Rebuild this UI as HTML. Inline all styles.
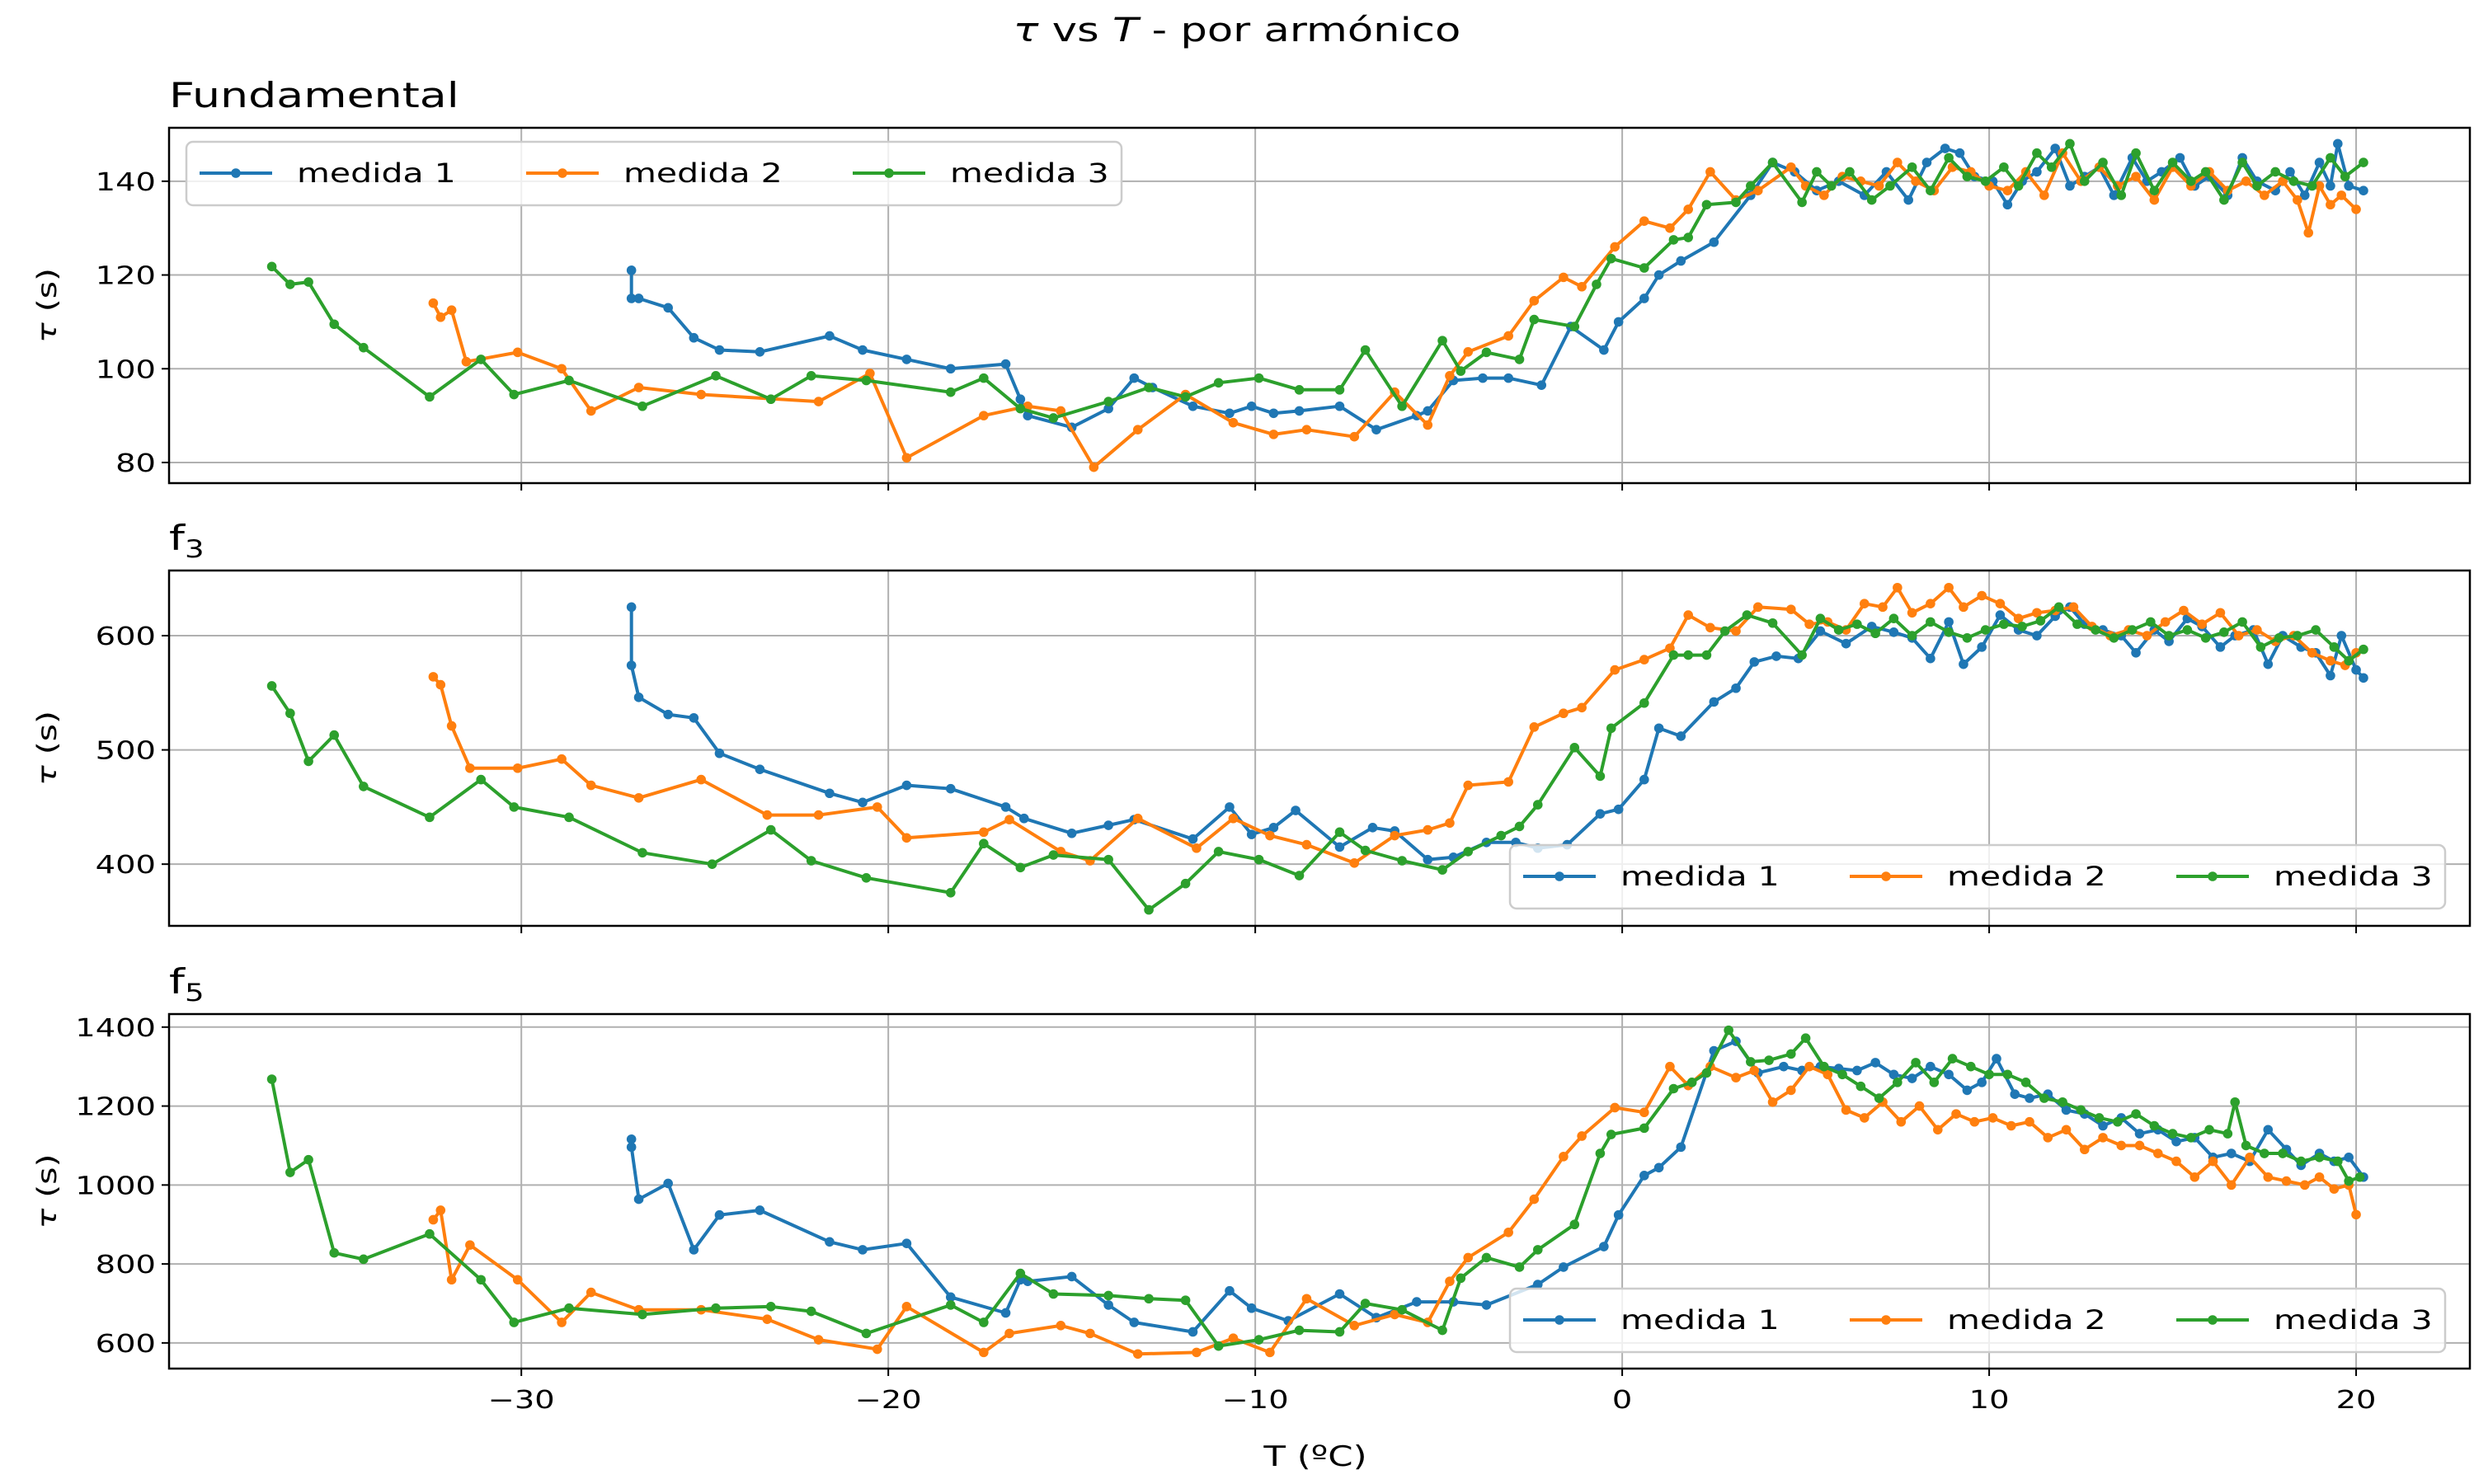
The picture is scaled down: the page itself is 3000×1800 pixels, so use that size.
<!DOCTYPE html>
<html><head><meta charset="utf-8"><style>
body{margin:0;background:#fff}
svg{display:block;font-family:"DejaVu Sans","Liberation Sans",sans-serif}
</style></head><body>
<svg id="chart" width="3000" height="1800" viewBox="0 0 3000 1800" xmlns="http://www.w3.org/2000/svg">
<rect width="3000" height="1800" fill="#fff"/>
<text x="1500" y="50" font-size="40" text-anchor="middle"><tspan font-style="italic">τ</tspan> vs <tspan font-style="italic">T</tspan> - por armónico</text>
<text x="1595" y="1778" font-size="34" text-anchor="middle">T (ºC)</text>
</svg>
<script>
// ---- data ----
const xTicks = [-30,-20,-10,0,10,20];
const xTickLabels = ['−30','−20','−10','0','10','20'];
const seriesNames = ['medida 1','medida 2','medida 3'];
const colors = ['#1f77b4','#ff7f0e','#2ca02c'];

const p1TickVals = [80,100,120,140];
const p2TickVals = [400,500,600];
const p3TickVals = [600,800,1000,1200,1400];

// Fundamental
const f1m1x = [-27.0,-27.0,-26.8,-26.0,-25.3,-24.6,-23.5,-21.6,-20.7,-19.5,-18.3,-16.8,-16.4,-16.2,-15.0,-14.0,-13.3,-12.8,-11.7,-10.7,-10.1,-9.5,-8.8,-7.7,-6.7,-5.6,-5.3,-4.6,-3.8,-3.1,-2.2,-1.4,-0.5,-0.1,0.6,1.0,1.6,2.5,3.5,4.1,4.7,5.3,5.9,6.6,7.2,7.8,8.3,8.8,9.2,9.6,10.1,10.5,10.9,11.3,11.8,12.2,12.6,13.0,13.4,13.9,14.3,14.7,15.2,15.6,16.0,16.5,16.9,17.3,17.8,18.2,18.6,19.0,19.3,19.5,19.8,20.2];
const f1m1y = [121,115,115,113,106.6,104,103.6,107,104,102,100,101,93.5,90,87.5,91.5,98,96,92,90.5,92,90.5,91,92,87,90,91,97.5,98,98,96.5,109,104,110,115,120,123,127,137,144,142,138,140,137,142,136,144,147,146,141,140,135,140,142,147,139,141,143,137,145,140,142,145,139,141,137,145,140,138,142,137,144,139,148,139,138];
const f1m2x = [-32.4,-32.2,-31.9,-31.5,-30.1,-28.9,-28.1,-26.8,-25.1,-21.9,-20.5,-19.5,-17.4,-16.2,-15.3,-14.4,-13.2,-11.9,-10.6,-9.5,-8.6,-7.3,-6.2,-5.3,-4.7,-4.2,-3.1,-2.4,-1.6,-1.1,-0.2,0.6,1.3,1.8,2.4,3.1,3.7,4.6,5.0,5.5,6.0,6.5,7.0,7.5,8.0,8.5,9.0,9.5,10.0,10.5,11.0,11.5,12.0,12.5,13.0,13.5,14.0,14.5,15.0,15.5,16.0,16.5,17.0,17.5,18.0,18.4,18.7,19.0,19.3,19.6,20.0];
const f1m2y = [114,111,112.5,101.5,103.5,100,91,96,94.5,93,99,81,90,92,91,79,87,94.5,88.5,86,87,85.5,95,88,98.5,103.6,107,114.5,119.5,117.5,126,131.5,130,134,142,136,138,143,139,137,141,140,139,144,140,138,143,142,139,138,142,137,146,140,143,139,141,136,143,139,142,138,140,137,140,136,129,139,135,137,134];
const f1m3x = [-36.8,-36.3,-35.8,-35.1,-34.3,-32.5,-31.1,-30.2,-28.7,-26.7,-24.7,-23.2,-22.1,-20.6,-18.3,-17.4,-16.4,-15.5,-14.0,-12.9,-11.9,-11.0,-9.9,-8.8,-7.7,-7.0,-6.0,-4.9,-4.4,-3.7,-2.8,-2.4,-1.3,-0.7,-0.3,0.6,1.4,1.8,2.3,3.1,3.5,4.1,4.9,5.3,5.7,6.2,6.8,7.3,7.9,8.4,8.9,9.4,9.9,10.4,10.8,11.3,11.7,12.2,12.6,13.1,13.6,14.0,14.5,15.0,15.5,15.9,16.4,16.9,17.3,17.8,18.3,18.8,19.3,19.7,20.2];
const f1m3y = [121.8,118,118.5,109.5,104.5,94,102,94.5,97.5,92,98.5,93.5,98.5,97.5,95,98,91.5,89.5,93,96,94,97,98,95.5,95.5,104,92,106,99.5,103.5,102,110.5,109,118,123.5,121.5,127.5,128,135,135.5,139,144,135.5,142,139,142,136,139,143,138,145,141,140,143,139,146,143,148,140,144,137,146,138,144,140,142,136,144,139,142,140,139,145,141,144];

// f3
const f3m1x = [-27.0,-27.0,-26.8,-26.0,-25.3,-24.6,-23.5,-21.6,-20.7,-19.5,-18.3,-16.8,-16.3,-15.0,-14.0,-13.3,-11.7,-10.7,-10.1,-9.5,-8.9,-7.7,-6.8,-6.2,-5.3,-4.6,-3.7,-2.9,-2.3,-1.5,-0.6,-0.1,0.6,1.0,1.6,2.5,3.1,3.6,4.2,4.8,5.4,6.1,6.8,7.4,7.9,8.4,8.9,9.3,9.8,10.3,10.8,11.3,11.8,12.2,12.6,13.1,13.6,14.0,14.5,14.9,15.4,15.8,16.3,16.7,17.2,17.6,18.0,18.5,18.9,19.3,19.6,20.0,20.2];
const f3m1y = [625,574,546,531,528,497,483,462,454,469,466,450,440,427,434,439,422,450,426,432,447,415,432,429,404,406,419,419,414,417,444,448,474,519,512,542,554,577,582,580,604,593,608,603,598,580,612,575,590,618,605,600,617,625,610,605,600,585,605,595,615,608,590,600,605,575,600,590,585,565,600,570,563];
const f3m2x = [-32.4,-32.2,-31.9,-31.4,-30.1,-28.9,-28.1,-26.8,-25.1,-23.3,-21.9,-20.3,-19.5,-17.4,-16.7,-15.3,-14.5,-13.2,-11.6,-10.6,-9.6,-8.6,-7.3,-6.2,-5.3,-4.7,-4.2,-3.1,-2.4,-1.6,-1.1,-0.2,0.6,1.3,1.8,2.4,3.1,3.7,4.6,5.1,5.6,6.1,6.6,7.1,7.5,7.9,8.4,8.9,9.3,9.8,10.3,10.8,11.3,11.8,12.3,12.8,13.3,13.8,14.3,14.8,15.3,15.8,16.3,16.8,17.3,17.8,18.3,18.8,19.3,19.7,20.0];
const f3m2y = [564,557,521,484,484,492,469,458,474,443,443,450,423,428,439,411,403,440,414,440,425,417,401,425,430,436,469,472,520,532,537,570,579,589,618,607,604,625,623,610,612,605,628,625,642,620,628,642,625,635,628,615,620,622,625,608,600,605,600,612,622,610,620,600,605,595,600,585,578,574,585];
const f3m3x = [-36.8,-36.3,-35.8,-35.1,-34.3,-32.5,-31.1,-30.2,-28.7,-26.7,-24.8,-23.2,-22.1,-20.6,-18.3,-17.4,-16.4,-15.5,-14.0,-12.9,-11.9,-11.0,-9.9,-8.8,-7.7,-7.0,-6.0,-4.9,-4.2,-3.3,-2.8,-2.3,-1.3,-0.6,-0.3,0.6,1.4,1.8,2.3,2.8,3.4,4.1,4.9,5.4,5.9,6.4,6.9,7.4,7.9,8.4,8.9,9.4,9.9,10.4,10.9,11.4,11.9,12.4,12.9,13.4,13.9,14.4,14.9,15.4,15.9,16.4,16.9,17.4,17.9,18.4,18.9,19.4,19.8,20.2];
const f3m3y = [556,532,490,513,468,441,474,450,441,410,400,430,403,388,375,418,397,408,404,360,383,411,404,390,428,412,403,395,411,425,433,452,502,477,519,541,583,583,583,604,618,611,583,615,605,610,602,615,600,612,603,598,605,610,608,613,625,610,605,598,605,612,600,605,598,603,612,590,598,600,605,590,578,588];

// f5
const f5m1x = [-27.0,-27.0,-26.8,-26.0,-25.3,-24.6,-23.5,-21.6,-20.7,-19.5,-18.3,-16.8,-16.4,-16.2,-15.0,-14.0,-13.3,-11.7,-10.7,-10.1,-9.1,-7.7,-6.7,-5.6,-4.6,-3.7,-2.3,-1.6,-0.5,-0.1,0.6,1.0,1.6,2.5,3.1,3.7,4.4,4.9,5.4,5.9,6.4,6.9,7.4,7.9,8.4,8.9,9.4,9.8,10.2,10.7,11.1,11.6,12.1,12.6,13.1,13.6,14.1,14.6,15.1,15.6,16.1,16.6,17.1,17.6,18.1,18.5,19.0,19.4,19.8,20.2];
const f5m1y = [1116,1096,964,1004,836,924,936,856,836,852,716,676,760,756,768,696,652,628,732,688,656,724,664,704,704,696,748,792,844,924,1024,1044,1096,1340,1364,1284,1300,1290,1300,1295,1290,1310,1280,1270,1300,1280,1240,1260,1320,1230,1220,1230,1190,1180,1150,1170,1130,1140,1110,1120,1070,1080,1060,1140,1090,1050,1080,1060,1070,1020];
const f5m2x = [-32.4,-32.2,-31.9,-31.4,-30.1,-28.9,-28.1,-26.8,-25.1,-23.3,-21.9,-20.3,-19.5,-17.4,-16.7,-15.3,-14.5,-13.2,-11.6,-10.6,-9.6,-8.6,-7.3,-6.2,-5.3,-4.7,-4.2,-3.1,-2.4,-1.6,-1.1,-0.2,0.6,1.3,1.8,2.4,3.1,3.6,4.1,4.6,5.1,5.6,6.1,6.6,7.1,7.6,8.1,8.6,9.1,9.6,10.1,10.6,11.1,11.6,12.1,12.6,13.1,13.6,14.1,14.6,15.1,15.6,16.1,16.6,17.1,17.6,18.1,18.6,19.0,19.4,19.8,20.0];
const f5m2y = [912,936,760,848,760,652,728,684,684,660,608,584,692,576,624,644,624,572,576,612,576,712,644,672,652,756,816,880,964,1072,1124,1196,1184,1300,1252,1300,1272,1290,1210,1240,1300,1280,1190,1170,1210,1160,1200,1140,1180,1160,1170,1150,1160,1120,1140,1090,1120,1100,1100,1080,1060,1020,1060,1000,1070,1020,1010,1000,1020,990,1000,925];
const f5m3x = [-36.8,-36.3,-35.8,-35.1,-34.3,-32.5,-31.1,-30.2,-28.7,-26.7,-24.7,-23.2,-22.1,-20.6,-18.3,-17.4,-16.4,-15.5,-14.0,-12.9,-11.9,-11.0,-9.9,-8.8,-7.7,-7.0,-6.0,-4.9,-4.4,-3.7,-2.8,-2.3,-1.3,-0.6,-0.3,0.6,1.4,1.9,2.3,2.9,3.5,4.0,4.6,5.0,5.5,6.0,6.5,7.0,7.5,8.0,8.5,9.0,9.5,10.0,10.5,11.0,11.5,12.0,12.5,13.0,13.5,14.0,14.5,15.0,15.5,16.0,16.5,16.7,17.0,17.5,18.0,18.5,19.0,19.5,19.8,20.1];
const f5m3y = [1268,1032,1064,828,812,876,760,652,688,672,688,692,680,624,696,652,776,724,720,712,708,592,608,632,628,700,684,632,764,816,792,836,900,1080,1128,1144,1244,1260,1284,1392,1312,1316,1332,1372,1300,1280,1250,1220,1260,1310,1260,1320,1300,1280,1280,1260,1220,1210,1190,1170,1160,1180,1150,1130,1120,1140,1130,1210,1100,1080,1080,1060,1070,1060,1010,1020];

// ---- layout ----
const NS = 'http://www.w3.org/2000/svg';
const svg = document.getElementById('chart');
const L = 205, R = 2995, X0 = -39.6, X1 = 23.1;
const xs = v => L + (v - X0) / (X1 - X0) * (R - L);
function mk(tag, attrs, parent){ const e = document.createElementNS(NS, tag); for (const k in attrs) e.setAttribute(k, attrs[k]); (parent||svg).appendChild(e); return e; }

const panels = [
  {name:'fundamental', title:'Fundamental', sub:null, top:155, bot:586, y0:75.6, y1:151.4, ticks:p1TickVals,
   data:[[f1m1x,f1m1y],[f1m2x,f1m2y],[f1m3x,f1m3y]], legend:{x:226,y:172}},
  {name:'f3', title:'f', sub:'3', top:692, bot:1123, y0:346, y1:657, ticks:p2TickVals,
   data:[[f3m1x,f3m1y],[f3m2x,f3m2y],[f3m3x,f3m3y]], legend:{x:1831,y:1025}},
  {name:'f5', title:'f', sub:'5', top:1230, bot:1660, y0:535, y1:1433, ticks:p3TickVals,
   data:[[f5m1x,f5m1y],[f5m2x,f5m2y],[f5m3x,f5m3y]], legend:{x:1831,y:1563}},
];

panels.forEach((p, pi) => {
  const ys = v => p.bot - (v - p.y0) / (p.y1 - p.y0) * (p.bot - p.top);
  const g = mk('g', {});
  
  
  const clipId = 'clip' + pi;
  const cp = mk('clipPath', {id: clipId}, g);
  mk('rect', {x:L, y:p.top, width:R-L, height:p.bot-p.top}, cp);
  xTicks.forEach((t, i) => {
    const gl = mk('line', {x1:xs(t), x2:xs(t), y1:p.top, y2:p.bot, stroke:'#b0b0b0', 'stroke-width':2}, g);
    
    
    mk('line', {x1:xs(t), x2:xs(t), y1:p.bot, y2:p.bot+9, stroke:'#000', 'stroke-width':2}, g);
    if (pi === 2) {
      const tl = mk('text', {x:xs(t), y:p.bot+48, 'font-size':30, 'text-anchor':'middle'}, g);
      tl.textContent = xTickLabels[i];
      
      
    }
  });
  p.ticks.forEach(t => {
    const gl = mk('line', {x1:L, x2:R, y1:ys(t), y2:ys(t), stroke:'#b0b0b0', 'stroke-width':2}, g);
    
    
    mk('line', {x1:L-9, x2:L, y1:ys(t), y2:ys(t), stroke:'#000', 'stroke-width':2}, g);
    const tl = mk('text', {x:L-16, y:ys(t)+11, 'font-size':30, 'text-anchor':'end'}, g);
    tl.textContent = String(t);
    
    
  });
  p.data.forEach((d, si) => {
    const sg = mk('g', {'clip-path':'url(#'+clipId+')'}, g);
    
    
    const pts = d[0].map((x, k) => xs(x).toFixed(1) + ',' + ys(d[1][k]).toFixed(1)).join(' ');
    const pl = mk('polyline', {points:pts, fill:'none', stroke:colors[si], 'stroke-width':4, 'stroke-linejoin':'round'}, sg);
    
    
    d[0].forEach((x, k) => {
      const c = mk('circle', {cx:xs(x), cy:ys(d[1][k]), r:5.8, fill:colors[si]}, sg);
      
      
    });
  });
  const fr = mk('rect', {x:L, y:p.top, width:R-L, height:p.bot-p.top, fill:'none', stroke:'#000', 'stroke-width':2.5}, g);
  
  
  const tt = mk('text', {x:L, y:p.top-25, 'font-size':42}, g);
  
  
  tt.textContent = p.title;
  if (p.sub) { const ts = mk('tspan', {'font-size':29, dy:9}, tt); ts.textContent = p.sub; }
  const cy = (p.top + p.bot) / 2;
  const yl = mk('text', {x:0, y:0, 'font-size':32, 'text-anchor':'middle', transform:'translate(68,'+cy+') rotate(-90)'}, g);
  
  
  yl.innerHTML = '<tspan font-style="italic">τ</tspan> (s)';
  const lg = mk('g', {}, g);
  
  
  mk('rect', {x:p.legend.x, y:p.legend.y, width:1134, height:77, rx:8, fill:'#fff', 'fill-opacity':0.8, stroke:'#cccccc', 'stroke-width':2.5}, lg);
  seriesNames.forEach((n, si) => {
    const ex = p.legend.x + 16 + si * 396, ey = p.legend.y + 38;
    const le = mk('g', {}, lg);
    
    
    mk('line', {x1:ex, x2:ex+88, y1:ey, y2:ey, stroke:colors[si], 'stroke-width':4}, le);
    mk('circle', {cx:ex+44, cy:ey, r:5.8, fill:colors[si]}, le);
    const t = mk('text', {x:ex+118, y:ey+11, 'font-size':32}, le);
    t.textContent = n;
  });
});

// widen text to match the reference font's metrics
svg.querySelectorAll('text').forEach(t => {
  const w = t.getComputedTextLength();
  if (w > 0) {
    t.setAttribute('textLength', (w * 1.28).toFixed(1));
    t.setAttribute('lengthAdjust', 'spacingAndGlyphs');
  }
});
</script>
</body></html>
